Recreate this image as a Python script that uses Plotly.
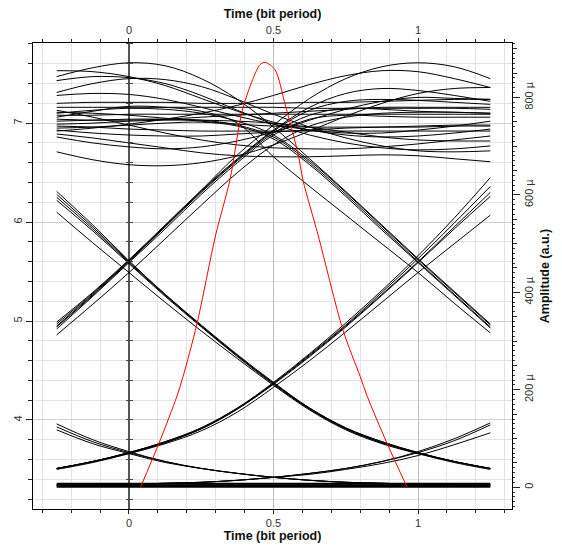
import plotly.graph_objects as go

# Sample instants across the 1.5-bit display window (bit periods)
T = [-0.25, -0.125, 0.0, 0.125, 0.25, 0.375, 0.5, 0.625, 0.75, 0.875, 1.0, 1.125, 1.25]

# Steady "0" level
LOW_FLAT = [
    [3.325, 3.325, 3.325, 3.325, 3.325, 3.325, 3.325, 3.325, 3.325, 3.325, 3.325, 3.325, 3.325],
    [3.34, 3.34, 3.34, 3.34, 3.34, 3.34, 3.34, 3.34, 3.34, 3.34, 3.34, 3.34, 3.34],
    [3.355, 3.355, 3.355, 3.355, 3.355, 3.355, 3.355, 3.355, 3.355, 3.355, 3.355, 3.355, 3.355],
]

# Tail of a falling edge settling onto the "0" level
LOW_FALL_TAIL = [
    [3.96, 3.80, 3.68, 3.58, 3.51, 3.46, 3.42, 3.39, 3.37, 3.36, 3.35, 3.34, 3.34],
    [3.93, 3.78, 3.67, 3.58, 3.51, 3.46, 3.42, 3.39, 3.37, 3.36, 3.35, 3.34, 3.34],
    [3.90, 3.76, 3.66, 3.57, 3.51, 3.46, 3.42, 3.39, 3.37, 3.36, 3.35, 3.34, 3.34],
]

# Start of a rising edge leaving the "0" level
LOW_RISE_HEAD = [
    [3.34, 3.34, 3.35, 3.36, 3.37, 3.39, 3.42, 3.46, 3.51, 3.58, 3.68, 3.81, 3.97],
    [3.34, 3.34, 3.35, 3.36, 3.37, 3.39, 3.42, 3.46, 3.51, 3.58, 3.67, 3.79, 3.95],
    [3.34, 3.34, 3.35, 3.36, 3.37, 3.39, 3.42, 3.45, 3.50, 3.56, 3.64, 3.75, 3.87],
]

# Rising edges crossing the window (low at left, high at right)
RISE = [
    [3.51, 3.58, 3.67, 3.78, 3.92, 4.12, 4.38, 4.67, 4.98, 5.31, 5.66, 6.04, 6.45],
    [3.51, 3.58, 3.67, 3.78, 3.92, 4.12, 4.37, 4.66, 4.96, 5.29, 5.63, 5.99, 6.36],
    [3.50, 3.57, 3.66, 3.77, 3.91, 4.11, 4.37, 4.65, 4.95, 5.27, 5.60, 5.95, 6.30],
    [3.51, 3.58, 3.67, 3.77, 3.91, 4.11, 4.36, 4.64, 4.94, 5.26, 5.59, 5.93, 6.26],
    [3.51, 3.58, 3.66, 3.76, 3.89, 4.08, 4.33, 4.60, 4.89, 5.19, 5.49, 5.78, 6.07],
]

# Falling edges crossing the window (high at left, low at right)
FALL = [
    [6.31, 5.97, 5.61, 5.27, 4.96, 4.66, 4.38, 4.12, 3.92, 3.78, 3.67, 3.58, 3.51],
    [6.28, 5.95, 5.60, 5.27, 4.95, 4.65, 4.37, 4.12, 3.92, 3.78, 3.67, 3.58, 3.51],
    [6.25, 5.93, 5.59, 5.26, 4.95, 4.65, 4.37, 4.11, 3.91, 3.77, 3.66, 3.57, 3.50],
    [6.22, 5.91, 5.58, 5.25, 4.94, 4.64, 4.36, 4.11, 3.91, 3.77, 3.67, 3.58, 3.51],
    [6.10, 5.79, 5.49, 5.19, 4.90, 4.62, 4.35, 4.10, 3.90, 3.76, 3.66, 3.58, 3.51],
]

# Rising edges that finish inside the window and join the "1" level
RISE_TO_HIGH = [
    [4.99, 5.29, 5.62, 5.97, 6.32, 6.64, 6.93, 7.16, 7.30, 7.35, 7.33, 7.28, 7.22],
    [4.97, 5.28, 5.61, 5.96, 6.31, 6.63, 6.92, 7.13, 7.22, 7.24, 7.23, 7.21, 7.19],
    [4.94, 5.26, 5.60, 5.95, 6.30, 6.62, 6.90, 7.08, 7.15, 7.14, 7.12, 7.11, 7.10],
    [4.92, 5.25, 5.59, 5.93, 6.28, 6.60, 6.88, 7.04, 7.08, 7.07, 7.06, 7.06, 7.06],
    [4.86, 5.17, 5.49, 5.83, 6.17, 6.50, 6.78, 6.97, 7.06, 7.10, 7.11, 7.11, 7.10],
    [4.95, 5.27, 5.61, 5.96, 6.32, 6.68, 6.98, 7.25, 7.45, 7.57, 7.61, 7.57, 7.45],
]

# Falling edges that leave the "1" level inside the window
HIGH_TO_FALL = [
    [7.47, 7.56, 7.61, 7.58, 7.45, 7.24, 6.96, 6.64, 6.31, 5.97, 5.63, 5.30, 4.97],
    [7.10, 7.13, 7.15, 7.14, 7.10, 7.02, 6.88, 6.62, 6.30, 5.96, 5.62, 5.29, 4.96],
    [7.02, 7.03, 7.04, 7.04, 7.03, 6.98, 6.86, 6.60, 6.28, 5.94, 5.60, 5.27, 4.94],
    [6.95, 6.96, 6.98, 7.00, 7.01, 6.97, 6.84, 6.58, 6.26, 5.92, 5.59, 5.26, 4.93],
    [7.06, 7.12, 7.17, 7.16, 7.12, 7.00, 6.66, 6.36, 6.07, 5.78, 5.49, 5.18, 4.88],
]

# Ripple on the "1" level
HIGH_LEVEL = [
    [7.53, 7.52, 7.47, 7.38, 7.25, 7.12, 7.01, 6.93, 6.88, 6.86, 6.87, 6.90, 6.94],
    [7.43, 7.47, 7.46, 7.40, 7.28, 7.13, 6.99, 6.88, 6.80, 6.75, 6.73, 6.74, 6.77],
    [7.31, 7.40, 7.45, 7.44, 7.37, 7.24, 7.09, 6.96, 6.85, 6.77, 6.72, 6.71, 6.72],
    [7.28, 7.30, 7.29, 7.24, 7.16, 7.07, 6.99, 6.93, 6.90, 6.90, 6.93, 6.97, 7.02],
    [6.71, 6.63, 6.58, 6.57, 6.60, 6.67, 6.78, 6.92, 7.07, 7.20, 7.30, 7.35, 7.36],
    [6.86, 6.80, 6.76, 6.74, 6.76, 6.82, 6.91, 7.03, 7.14, 7.22, 7.26, 7.25, 7.24],
    [6.89, 6.85, 6.80, 6.75, 6.70, 6.67, 6.66, 6.66, 6.67, 6.68, 6.67, 6.64, 6.61],
    [6.92, 6.95, 6.99, 7.04, 7.10, 7.18, 7.28, 7.39, 7.48, 7.53, 7.52, 7.45, 7.36],
    [6.99, 7.00, 7.02, 7.03, 7.03, 7.02, 7.00, 6.96, 6.91, 6.86, 6.83, 6.82, 6.82],
    [7.04, 7.03, 7.03, 7.04, 7.06, 7.08, 7.10, 7.12, 7.14, 7.16, 7.16, 7.16, 7.16],
    [7.16, 7.16, 7.16, 7.16, 7.16, 7.16, 7.16, 7.15, 7.15, 7.15, 7.15, 7.15, 7.14],
    [7.11, 7.10, 7.08, 7.05, 7.02, 6.99, 6.97, 6.96, 6.96, 6.96, 6.96, 6.97, 6.97],
    [7.20, 7.21, 7.21, 7.21, 7.20, 7.20, 7.20, 7.21, 7.21, 7.22, 7.23, 7.24, 7.24],
    [6.97, 6.96, 6.94, 6.93, 6.92, 6.92, 6.92, 6.92, 6.92, 6.92, 6.92, 6.92, 6.92],
    [7.08, 7.08, 7.09, 7.09, 7.09, 7.09, 7.09, 7.09, 7.09, 7.09, 7.09, 7.09, 7.09],
    [6.93, 6.90, 6.88, 6.87, 6.87, 6.89, 6.91, 6.93, 6.95, 6.96, 6.97, 6.98, 6.98],
    [7.13, 7.06, 6.98, 6.90, 6.83, 6.78, 6.75, 6.74, 6.74, 6.76, 6.79, 6.83, 6.87],
]

# Sampling (decision) window profile on the right-hand amplitude axis, in micro units
WIN_T = [0.04, 0.107, 0.166, 0.187, 0.235, 0.30, 0.349, 0.395, 0.453, 0.471,
         0.505, 0.54, 0.585, 0.602, 0.654, 0.74, 0.80, 0.824, 0.892, 0.962]
WIN_AMP = [0, 95, 187, 227, 335, 518, 630, 780, 867, 872,
           857, 786, 684, 630, 518, 323, 227, 187, 91, 0]

# Axis ticks
X_TICKS = [0, 0.5, 1]
X_LABELS = ["0", "0.5", "1"]
Y_TICKS = [4, 5, 6, 7]
Y_LABELS = ["4", "5", "6", "7"]
AMP_TICKS = [0, 200, 400, 600, 800]
AMP_LABELS = ["0", "200 \u00b5", "400 \u00b5", "600 \u00b5", "800 \u00b5"]

X_RANGE = [-0.332, 1.325]
Y_RANGE = [3.10, 7.81]
AMP_RANGE = [-44.7, 911.7]

FONT = "Liberation Sans, Arial, sans-serif"
TICK_FONT = dict(family=FONT, size=11, color="#333333")
TITLE_FONT = dict(family=FONT, size=12.5, color="#111111")

fig = go.Figure()

groups = [LOW_FLAT, LOW_FALL_TAIL, LOW_RISE_HEAD, RISE, FALL,
          RISE_TO_HIGH, HIGH_TO_FALL, HIGH_LEVEL]
for group in groups:
    for values in group:
        width = 2 if group is LOW_FLAT else 1
        fig.add_trace(go.Scatter(
            x=T, y=values, mode="lines",
            line=dict(color="black", width=width, shape="spline", smoothing=1.0),
            hoverinfo="skip", xaxis="x", yaxis="y",
        ))

fig.add_trace(go.Scatter(
    x=WIN_T, y=WIN_AMP, mode="lines",
    line=dict(color="#ff0000", width=1, shape="spline", smoothing=0.8),
    hoverinfo="skip", xaxis="x", yaxis="y2",
))

# Invisible anchors so the auxiliary axes are drawn
for xa, ya in [("x2", "y"), ("x", "y3"), ("x", "y4"), ("x", "y5")]:
    fig.add_trace(go.Scatter(x=[0.5], y=[5], mode="markers",
                             marker=dict(opacity=0, size=1),
                             hoverinfo="skip", xaxis=xa, yaxis=ya))

x_common = dict(
    range=X_RANGE, tickvals=X_TICKS, ticktext=X_LABELS,
    ticks="outside", ticklen=4, tickcolor="#222222",
    showline=True, linecolor="black", linewidth=1,
    tickfont=TICK_FONT,
    minor=dict(dtick=0.1, tick0=0, ticks="outside", ticklen=3, tickcolor="#222222",
               showgrid=True, gridcolor="#e4e4e4", gridwidth=1),
)

x0_pos = (0 - X_RANGE[0]) / (X_RANGE[1] - X_RANGE[0])

fig.update_layout(
    width=562, height=553,
    margin=dict(l=33, r=50, t=43, b=39),
    paper_bgcolor="white", plot_bgcolor="white",
    showlegend=False,
    xaxis=dict(
        **x_common,
        showgrid=True, gridcolor="#bdbdbd", gridwidth=1,
        zeroline=True, zerolinecolor="#555555", zerolinewidth=1.5,
        title=dict(text="<b>Time (bit period)</b>", font=TITLE_FONT, standoff=3),
    ),
    xaxis2=dict(
        **x_common,
        overlaying="x", side="top", anchor="y",
        showgrid=False, zeroline=False,
        title=dict(text="<b>Time (bit period)</b>", font=TITLE_FONT, standoff=2),
    ),
    yaxis=dict(
        range=Y_RANGE, tickvals=Y_TICKS, ticktext=Y_LABELS, tickangle=-90,
        ticks="outside", ticklen=6, tickcolor="#222222",
        showline=True, linecolor="black", linewidth=1,
        showgrid=True, gridcolor="#d0d0d0", gridwidth=1, zeroline=False,
        tickfont=TICK_FONT,
        minor=dict(dtick=0.2, tick0=0, ticks="outside", ticklen=4, tickcolor="#222222",
                   showgrid=True, gridcolor="#e4e4e4", gridwidth=1),
    ),
    yaxis2=dict(
        range=AMP_RANGE, tickvals=AMP_TICKS, ticktext=AMP_LABELS, tickangle=-90,
        overlaying="y", side="right", anchor="x",
        ticks="outside", ticklen=7, tickcolor="#222222",
        showline=True, linecolor="black", linewidth=1,
        showgrid=False, zeroline=False, tickfont=TICK_FONT,
        minor=dict(dtick=50, tick0=0, ticks="outside", ticklen=4, tickcolor="#222222"),
        title=dict(text="<b>Amplitude (a.u.)</b>", font=TITLE_FONT, standoff=6),
    ),
    # fine ruler ticks along the right-hand axis
    yaxis3=dict(
        range=AMP_RANGE, overlaying="y", side="right", anchor="x",
        dtick=10, tick0=0, ticks="outside", ticklen=2, tickcolor="#333333",
        showticklabels=False, showgrid=False, zeroline=False, showline=False,
    ),
    # tick marks along the t = 0 reference line
    yaxis4=dict(
        range=Y_RANGE, overlaying="y", anchor="free", position=x0_pos, side="left",
        dtick=0.2, tick0=0, ticks="outside", ticklen=3, tickcolor="#444444",
        showticklabels=False, showgrid=False, zeroline=False, showline=False,
    ),
    yaxis5=dict(
        range=Y_RANGE, overlaying="y", anchor="free", position=x0_pos, side="right",
        dtick=0.2, tick0=0, ticks="outside", ticklen=3, tickcolor="#444444",
        showticklabels=False, showgrid=False, zeroline=False, showline=False,
    ),
)

fig.write_html("out.html")
